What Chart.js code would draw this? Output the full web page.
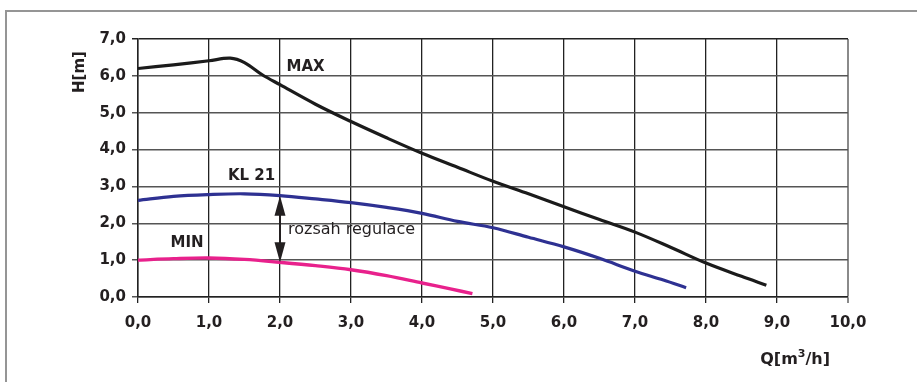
<!DOCTYPE html>
<html>
<head>
<meta charset="utf-8">
<script src="https://cdn.jsdelivr.net/npm/chart.js@4/dist/chart.umd.min.js"></script>
<style>
  html, body { margin: 0; padding: 0; background: #fff; }
  #wrap { width: 917px; height: 382px; }
</style>
</head>
<body>
<div id="wrap"><canvas id="c" width="917" height="382"></canvas></div>
<script>
// Pump characteristic curves: flow Q [m3/h] vs head H [m]
const maxQ = [0, 0.5, 1.0, 1.3, 1.5, 1.75, 2.0, 2.5, 3.0, 3.5, 4.0, 4.5, 5.0, 5.5, 6.0, 6.5, 7.0, 7.5, 8.0, 8.5, 8.85];
const maxH = [6.2, 6.3, 6.41, 6.48, 6.36, 6.03, 5.76, 5.23, 4.76, 4.32, 3.9, 3.52, 3.14, 2.8, 2.45, 2.1, 1.76, 1.35, 0.92, 0.56, 0.32];

const klQ = [0, 0.5, 1.0, 1.5, 2.0, 2.5, 3.0, 3.5, 4.0, 4.5, 5.0, 5.5, 6.0, 6.5, 7.0, 7.4, 7.72];
const klH = [2.62, 2.73, 2.78, 2.8, 2.75, 2.66, 2.56, 2.43, 2.27, 2.05, 1.88, 1.62, 1.36, 1.05, 0.7, 0.46, 0.25];

const minQ = [0, 0.5, 1.0, 1.5, 2.0, 2.5, 3.0, 3.5, 4.0, 4.4, 4.71];
const minH = [1.0, 1.04, 1.06, 1.02, 0.94, 0.85, 0.74, 0.58, 0.38, 0.22, 0.09];

const seriesNames = ['MAX', 'KL 21', 'MIN'];
const rangeLabel = 'rozsah regulace';
const rangeAtQ = 2.0;
const xTitle = ['Q[m', '3', '/h]'];
const yTitle = 'H[m]';

const ink = '#231f20';
const pts = (qs, hs) => qs.map((q, i) => ({ x: q, y: hs[i] }));
const fmt = v => v.toFixed(1).replace('.', ',');

// Text placed on the plot in data coordinates
const curveLabels = [
  { text: seriesNames[0], q: 2.36, h: 6.23 },
  { text: seriesNames[1], q: 1.6, h: 3.27 },
  { text: seriesNames[2], q: 0.69, h: 1.46 }
];

const decorations = {
  id: 'decorations',
  beforeDraw(chart) {
    const ctx = chart.ctx;
    ctx.save();
    ctx.strokeStyle = '#959595';
    ctx.lineWidth = 2;
    ctx.beginPath();
    ctx.moveTo(917, 11);
    ctx.lineTo(6, 11);
    ctx.lineTo(6, 382);
    ctx.stroke();
    ctx.restore();
  },
  afterDatasetsDraw(chart) {
    const ctx = chart.ctx;
    const xs = chart.scales.x, ys = chart.scales.y;
    ctx.save();
    ctx.fillStyle = ink;
    ctx.textAlign = 'center';
    ctx.textBaseline = 'middle';
    ctx.font = 'bold 15px "DejaVu Sans"';
    curveLabels.forEach(l => {
      ctx.fillText(l.text, xs.getPixelForValue(l.q), ys.getPixelForValue(l.h));
    });

    // double arrow between the KL 21 and MIN curves
    const hTop = klH[klQ.indexOf(rangeAtQ)];
    const hBot = minH[minQ.indexOf(rangeAtQ)];
    const ax = xs.getPixelForValue(rangeAtQ);
    const yT = ys.getPixelForValue(hTop);
    const yB = ys.getPixelForValue(hBot);
    const headL = 20, headW = 5.5;
    ctx.strokeStyle = ink;
    ctx.lineWidth = 2;
    ctx.beginPath();
    ctx.moveTo(ax, yT + headL - 2);
    ctx.lineTo(ax, yB - headL + 2);
    ctx.stroke();
    ctx.beginPath();
    ctx.moveTo(ax, yT);
    ctx.lineTo(ax - headW, yT + headL);
    ctx.lineTo(ax + headW, yT + headL);
    ctx.closePath();
    ctx.fill();
    ctx.beginPath();
    ctx.moveTo(ax, yB);
    ctx.lineTo(ax - headW, yB - headL);
    ctx.lineTo(ax + headW, yB - headL);
    ctx.closePath();
    ctx.fill();

    ctx.font = '16px "DejaVu Sans"';
    ctx.textAlign = 'left';
    ctx.fillText(rangeLabel, ax + 8, ys.getPixelForValue((hTop + hBot) / 2) + 1);
    ctx.restore();
  },
  afterDraw(chart) {
    const ctx = chart.ctx;
    ctx.save();
    ctx.fillStyle = ink;
    ctx.textBaseline = 'middle';
    // y axis title, rotated
    ctx.font = 'bold 15px "DejaVu Sans"';
    ctx.translate(80, 72);
    ctx.rotate(-Math.PI / 2);
    ctx.textAlign = 'center';
    ctx.fillText(yTitle, 0, 0);
    ctx.restore();

    // x axis title with superscript
    ctx.save();
    ctx.fillStyle = ink;
    ctx.textBaseline = 'alphabetic';
    const big = 'bold 16px "DejaVu Sans"', small = 'bold 11px "DejaVu Sans"';
    ctx.font = big;
    const w0 = ctx.measureText(xTitle[0]).width;
    const w2 = ctx.measureText(xTitle[2]).width;
    ctx.font = small;
    const w1 = ctx.measureText(xTitle[1]).width;
    let x = 830 - (w0 + w1 + w2);
    const base = 364;
    ctx.font = big;
    ctx.fillText(xTitle[0], x, base); x += w0;
    ctx.font = small;
    ctx.fillText(xTitle[1], x, base - 7); x += w1;
    ctx.font = big;
    ctx.fillText(xTitle[2], x, base);
    ctx.restore();
  }
};

new Chart(document.getElementById('c'), {
  type: 'line',
  data: {
    datasets: [
      { label: seriesNames[0], data: pts(maxQ, maxH), borderColor: '#1b1b1b', borderWidth: 3.2 },
      { label: seriesNames[1], data: pts(klQ, klH), borderColor: '#2e3192', borderWidth: 3.2 },
      { label: seriesNames[2], data: pts(minQ, minH), borderColor: '#e8218c', borderWidth: 3.4 }
    ]
  },
  options: {
    responsive: false,
    animation: false,
    devicePixelRatio: 1,
    layout: { padding: { left: 0, top: 39, right: 69, bottom: 0 } },
    elements: {
      point: { radius: 0 },
      line: { tension: 0.35, borderCapStyle: 'butt', fill: false }
    },
    plugins: { legend: { display: false }, tooltip: { enabled: false } },
    scales: {
      x: {
        type: 'linear', min: 0, max: 10,
        afterFit(s) { s.height = 85; s.paddingLeft = 0; s.paddingRight = 0; },
        ticks: {
          stepSize: 1, padding: 11, color: ink,
          font: { family: 'DejaVu Sans', weight: 'bold', size: 15 },
          callback: v => fmt(v), maxRotation: 0
        },
        grid: {
          color: c => (c.tick && c.tick.value === 10 ? '#8a8a8a' : '#222'),
          lineWidth: c => (c.tick && c.tick.value === 10 ? 2 : 1.3),
          tickLength: 6, drawTicks: true
        },
        border: { color: '#222', width: 1.5 }
      },
      y: {
        type: 'linear', min: 0, max: 7,
        afterFit(s) { s.width = 138; s.paddingTop = 0; s.paddingBottom = 0; },
        ticks: {
          stepSize: 1, padding: 6, color: ink,
          font: { family: 'DejaVu Sans', weight: 'bold', size: 15 },
          callback: v => fmt(v)
        },
        grid: {
          color: c => (c.tick && c.tick.value === 7 ? '#222' : '#555'),
          lineWidth: 1.5,
          tickLength: 6, drawTicks: true
        },
        border: { color: '#222', width: 1.5 }
      }
    }
  },
  plugins: [decorations]
});
</script>
</body>
</html>
